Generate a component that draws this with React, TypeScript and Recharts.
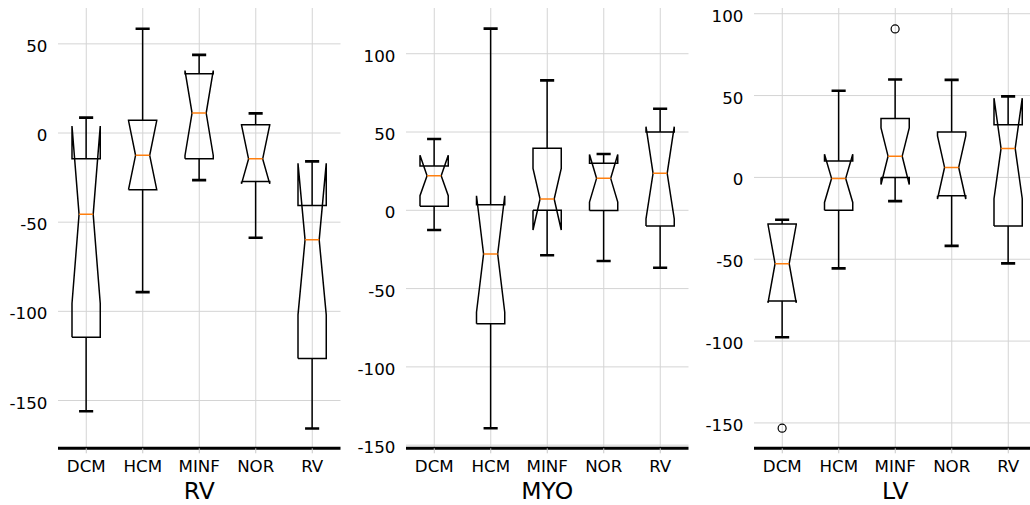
import React from 'react';
import { ComposedChart, Bar, XAxis, YAxis, CartesianGrid } from 'recharts';

const FONT = 'DejaVu Sans';

const categories = ['DCM', 'HCM', 'MINF', 'NOR', 'RV'];

// RV panel
const rvWhiskerHigh = [8.6, 58.5, 43.8, 11.0, -15.9];
const rvQ3 = [-14.4, 7.1, 33.3, 4.7, -40.6];
const rvMedian = [-45.6, -12.5, 11.2, -14.5, -59.9];
const rvQ1 = [-114.5, -31.8, -14.4, -27.2, -126.4];
const rvWhiskerLow = [-156.0, -89.2, -26.4, -58.7, -165.7];
const rvCiHigh = [3.9, 7.0, 35.0, 4.5, -17.0];
const rvCiLow = [-95.6, -31.8, -12.6, -28.5, -102.0];
const rvOutliers: number[][] = [[], [], [], [], []];
const rvTicks = [-150, -100, -50, 0, 50];

// MYO panel
const myoWhiskerHigh = [45.5, 116.0, 83.0, 36.0, 64.9];
const myoQ3 = [28.3, 3.6, 39.6, 30.0, 50.0];
const myoMedian = [22.1, -27.9, 7.2, 20.4, 23.6];
const myoQ1 = [2.6, -72.4, 0.0, -0.2, -10.0];
const myoWhiskerLow = [-12.6, -139.2, -28.7, -32.4, -36.7];
const myoCiHigh = [35.1, 9.3, 26.8, 35.6, 53.4];
const myoCiLow = [9.3, -65.1, -12.6, 5.3, -5.5];
const myoOutliers: number[][] = [[], [], [], [], []];
const myoTicks = [-150, -100, -50, 0, 50, 100];

// LV panel
const lvWhiskerHigh = [-25.9, 52.9, 59.8, 59.6, 49.5];
const lvQ3 = [-28.5, 10.1, 36.0, 27.7, 32.1];
const lvMedian = [-52.7, -0.6, 13.0, 6.1, 17.7];
const lvQ1 = [-75.5, -20.1, 0.0, -11.2, -29.7];
const lvWhiskerLow = [-97.7, -55.6, -14.5, -41.8, -52.5];
const lvCiHigh = [-28.8, 14.1, 30.3, 25.4, 48.4];
const lvCiLow = [-76.6, -15.3, -4.3, -13.2, -13.0];
const lvOutliers: number[][] = [[-153.2], [], [90.7], [], []];
const lvTicks = [-150, -100, -50, 0, 50, 100];

type PanelDef = {
  title: string;
  whi: number[];
  q3: number[];
  med: number[];
  q1: number[];
  wlo: number[];
  cihi: number[];
  cilo: number[];
  outliers: number[][];
  ticks: number[];
  domain: [number, number];
  plotLeft: number;
};

const panels: PanelDef[] = [
  { title: 'RV', whi: rvWhiskerHigh, q3: rvQ3, med: rvMedian, q1: rvQ1, wlo: rvWhiskerLow, cihi: rvCiHigh, cilo: rvCiLow, outliers: rvOutliers, ticks: rvTicks, domain: [-176.8, 70.1], plotLeft: 58.3 },
  { title: 'MYO', whi: myoWhiskerHigh, q3: myoQ3, med: myoMedian, q1: myoQ1, wlo: myoWhiskerLow, cihi: myoCiHigh, cilo: myoCiLow, outliers: myoOutliers, ticks: myoTicks, domain: [-152.0, 129.2], plotLeft: 405.7 },
  { title: 'LV', whi: lvWhiskerHigh, q3: lvQ3, med: lvMedian, q1: lvQ1, wlo: lvWhiskerLow, cihi: lvCiHigh, cilo: lvCiLow, outliers: lvOutliers, ticks: lvTicks, domain: [-165.5, 103.5], plotLeft: 754 },
];

function buildRows(p: PanelDef) {
  return categories.map((name, i) => {
    const vals = [p.wlo[i], p.whi[i], p.cilo[i], p.cihi[i], p.q1[i], p.q3[i], ...p.outliers[i]];
    return {
      name,
      range: [Math.min(...vals), Math.max(...vals)],
      whi: p.whi[i],
      q3: p.q3[i],
      med: p.med[i],
      q1: p.q1[i],
      wlo: p.wlo[i],
      cihi: p.cihi[i],
      cilo: p.cilo[i],
      outliers: p.outliers[i],
    };
  });
}

const BoxShape = (props: any) => {
  const { x, y, width, height, payload } = props;
  if (!payload) return null;
  const [lo, hi] = payload.range;
  const top = Math.min(y, y + height);
  const bot = Math.max(y, y + height);
  const py = (v: number) => bot - ((v - lo) / (hi - lo)) * (bot - top);
  const cx = x + width / 2;
  const hw = width / 2;
  const cw = width / 4;
  const L = cx - hw;
  const R = cx + hw;
  const cl = cx - cw;
  const cr = cx + cw;
  const q1 = py(payload.q1);
  const q3 = py(payload.q3);
  const med = py(payload.med);
  const cilo = py(payload.cilo);
  const cihi = py(payload.cihi);
  const wlo = py(payload.wlo);
  const whi = py(payload.whi);
  const pts: [number, number][] = [
    [L, q1], [R, q1], [R, cilo], [cr, med], [R, cihi], [R, q3],
    [L, q3], [L, cihi], [cl, med], [L, cilo], [L, q1],
  ];
  const d = pts.map((p, i) => `${i === 0 ? 'M' : 'L'}${p[0]},${p[1]}`).join(' ');
  return (
    <g>
      <line x1={cx} x2={cx} y1={q1} y2={wlo} stroke="#000" strokeWidth={1.5} />
      <line x1={cx} x2={cx} y1={q3} y2={whi} stroke="#000" strokeWidth={1.5} />
      <line x1={cl} x2={cr} y1={wlo} y2={wlo} stroke="#000" strokeWidth={2.6} />
      <line x1={cl} x2={cr} y1={whi} y2={whi} stroke="#000" strokeWidth={2.6} />
      <path d={d} fill="none" stroke="#000" strokeWidth={1.5} strokeLinejoin="miter" />
      <line x1={cl} x2={cr} y1={med} y2={med} stroke="#ff7f0e" strokeWidth={1.5} />
      {payload.outliers.map((o: number, k: number) => (
        <circle key={k} cx={cx} cy={py(o)} r={4} fill="none" stroke="#000" strokeWidth={1.2} />
      ))}
    </g>
  );
};

const XTick = (props: any) => {
  const { x, y, payload } = props;
  return (
    <text x={x} y={y + 19} textAnchor="middle" fontSize={16.7} fill="#000" fontFamily={FONT}>
      {payload.value}
    </text>
  );
};

const YTick = (props: any) => {
  const { x, y, payload } = props;
  return (
    <text x={x - 10.6} y={y + 8} textAnchor="end" fontSize={16.7} fill="#000" fontFamily={FONT}>
      {payload.value}
    </text>
  );
};

const PLOT_W = 282.5;
const YW = 60;
const RM = 5;

function Panel({ p }: { p: PanelDef }) {
  const rows = buildRows(p);
  return (
    <div style={{ position: 'absolute', left: p.plotLeft - YW, top: 0 }}>
      <ComposedChart
        width={YW + PLOT_W + RM}
        height={505}
        data={rows}
        margin={{ top: 8, right: RM, bottom: 0, left: 0 }}
      >
        <CartesianGrid stroke="#d4d4d4" strokeWidth={1} syncWithTicks />
        <XAxis
          dataKey="name"
          height={56.7}
          axisLine={{ stroke: '#000', strokeWidth: 3 }}
          tickLine={{ stroke: '#c8c8c8', strokeWidth: 1 }}
          tickSize={5}
          tickMargin={0}
          tick={<XTick />}
          interval={0}
          label={{ value: p.title, position: 'insideBottom', offset: 6, fontSize: 23.5, fill: '#000', fontFamily: FONT }}
        />
        <YAxis
          type="number"
          width={YW}
          domain={p.domain}
          ticks={p.ticks}
          allowDataOverflow
          axisLine={false}
          tickLine={false}
          tickSize={0}
          tickMargin={0}
          tick={<YTick />}
          interval={0}
        />
        <Bar dataKey="range" barSize={28.25} shape={<BoxShape />} isAnimationActive={false} />
      </ComposedChart>
    </div>
  );
}

export default function App() {
  return (
    <div
      style={{
        position: 'absolute',
        left: 0,
        top: 0,
        width: 1030,
        height: 505,
        overflow: 'hidden',
        background: '#fff',
      }}
    >
      {panels.map((p) => (
        <Panel key={p.title} p={p} />
      ))}
    </div>
  );
}
